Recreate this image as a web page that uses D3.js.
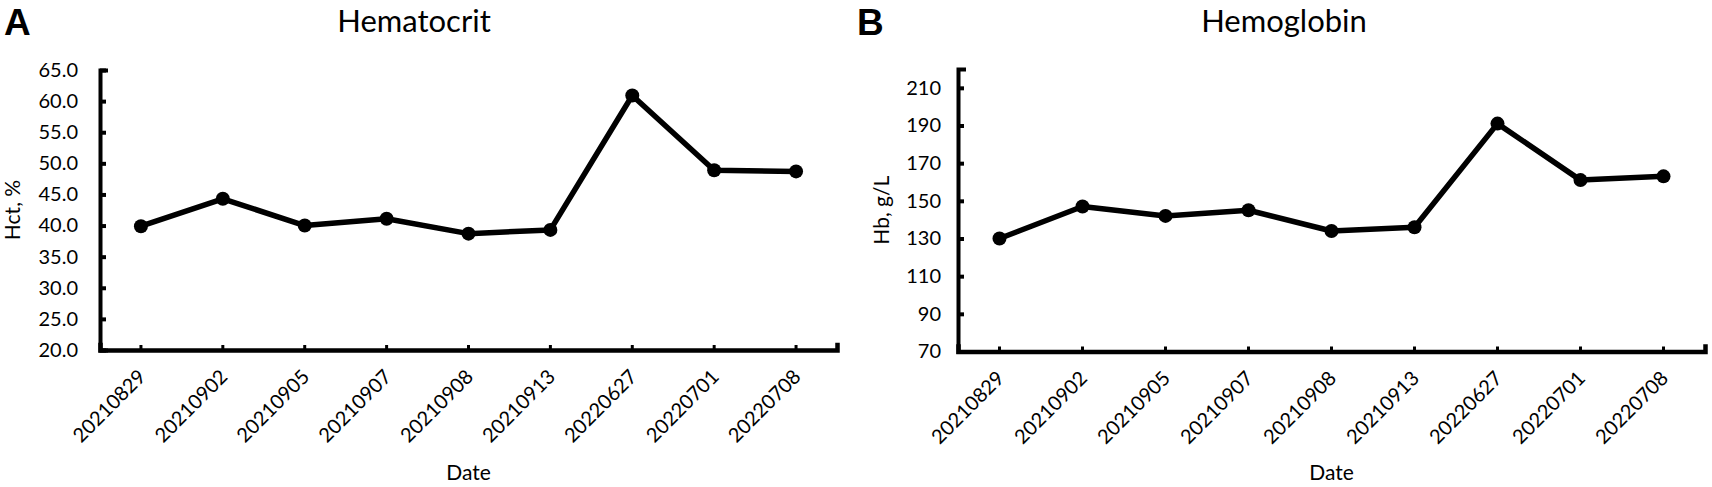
<!DOCTYPE html>
<html>
<head>
<meta charset="utf-8">
<script src="https://cdn.jsdelivr.net/npm/d3@7"></script>
<style>
  html, body { margin: 0; padding: 0; background: #fff; }
  svg { display: block; }
  text { font-family: Lato, "Open Sans", sans-serif; fill: #000; }
</style>
</head>
<body>
<svg id="chart" width="1712" height="487"></svg>
<script>
// ---- data ----
const dates = ["20210829", "20210902", "20210905", "20210907", "20210908", "20210913", "20220627", "20220701", "20220708"];
const hctValues = [39.9, 44.3, 40.0, 41.1, 38.7, 39.3, 60.9, 48.9, 48.7];
const hbValues = [130, 147, 142, 145, 134, 136, 191, 161, 163];
const hctTicks = [20, 25, 30, 35, 40, 45, 50, 55, 60, 65];
const hbTicks = [70, 90, 110, 130, 150, 170, 190, 210];
const panelTitles = ["Hematocrit", "Hemoglobin"];
const panelLetters = ["A", "B"];
const yTitles = ["Hct, %", "Hb, g/L"];
const xTitle = "Date";

const svg = d3.select("#chart");

function drawPanel(opt) {
  const g = svg.append("g");
  const x = d3.scaleBand().domain(opt.cats).range([opt.x0, opt.x1]).padding(0);
  const y = d3.scaleLinear().domain(opt.yDomain).range([opt.y0, opt.y1]);
  const cx = d => x(d) + x.bandwidth() / 2;

  // y axis
  const yAxis = d3.axisLeft(y).tickValues(opt.yTicks).tickFormat(opt.fmt)
    .tickSizeInner(-6).tickSizeOuter(-6).tickPadding(opt.yPad);
  const ya = g.append("g").attr("transform", `translate(${opt.x0},0)`).call(yAxis);
  ya.select(".domain").attr("stroke", "#000").attr("stroke-width", 4).attr("stroke-linecap", "square");
  ya.selectAll(".tick line").attr("stroke", "#000").attr("stroke-width", 4);
  ya.selectAll(".tick text").style("font-size", "20px").style("font-family", "Lato");

  // x axis
  const xAxis = d3.axisBottom(x).tickSizeInner(-5).tickSizeOuter(-5).tickFormat("");
  const xa = g.append("g").attr("transform", `translate(0,${opt.y0})`).call(xAxis);
  xa.select(".domain").attr("stroke", "#000").attr("stroke-width", 4.5).attr("stroke-linecap", "square");
  xa.selectAll(".tick line").attr("stroke", "#000").attr("stroke-width", 3);

  // rotated category labels
  g.selectAll("text.xlab").data(opt.cats).join("text")
    .attr("class", "xlab")
    .attr("transform", d => `translate(${cx(d) + 6},${opt.y0 + 28}) rotate(-45)`)
    .attr("text-anchor", "end")
    .style("font-size", "20px")
    .text(d => d);

  // line
  const line = d3.line().x((d, i) => cx(opt.cats[i])).y(d => y(d));
  g.append("path").datum(opt.values)
    .attr("d", line).attr("fill", "none").attr("stroke", "#000")
    .attr("stroke-width", 5.5).attr("stroke-linejoin", "round");
  g.selectAll("circle.pt").data(opt.values).join("circle")
    .attr("class", "pt")
    .attr("cx", (d, i) => cx(opt.cats[i])).attr("cy", d => y(d)).attr("r", 7).attr("fill", "#000");

  // titles
  g.append("text").attr("x", opt.titleX).attr("y", opt.titleY).attr("text-anchor", "middle")
    .style("font-size", "31px").text(opt.title);
  g.append("text").attr("x", opt.letterX).attr("y", 35)
    .style("font-family", "'Liberation Sans', Arial, sans-serif").style("font-weight", "bold")
    .style("font-size", "37px").text(opt.letter);
  g.append("text").attr("transform", `translate(${opt.yTitleX},${(opt.y0 + opt.y1) / 2}) rotate(-90)`)
    .attr("text-anchor", "middle").attr("dy", "0.35em").style("font-size", "21px").text(opt.yTitle);
  g.append("text").attr("x", (opt.x0 + opt.x1) / 2).attr("y", 480).attr("text-anchor", "middle")
    .style("font-size", "21px").text(xTitle);
}

drawPanel({
  cats: dates, values: hctValues, yDomain: [20, 65], yTicks: hctTicks, fmt: d3.format(".1f"),
  x0: 100, x1: 837, y0: 350, y1: 70, yPad: 22,
  title: panelTitles[0], titleX: 414, titleY: 32, letter: panelLetters[0], letterX: 4,
  yTitle: yTitles[0], yTitleX: 13
});
drawPanel({
  cats: dates, values: hbValues, yDomain: [70, 220], yTicks: hbTicks, fmt: d3.format("d"),
  x0: 958, x1: 1705, y0: 351.5, y1: 69, yPad: 17,
  title: panelTitles[1], titleX: 1284, titleY: 32, letter: panelLetters[1], letterX: 857,
  yTitle: yTitles[1], yTitleX: 882
});
</script>
</body>
</html>
